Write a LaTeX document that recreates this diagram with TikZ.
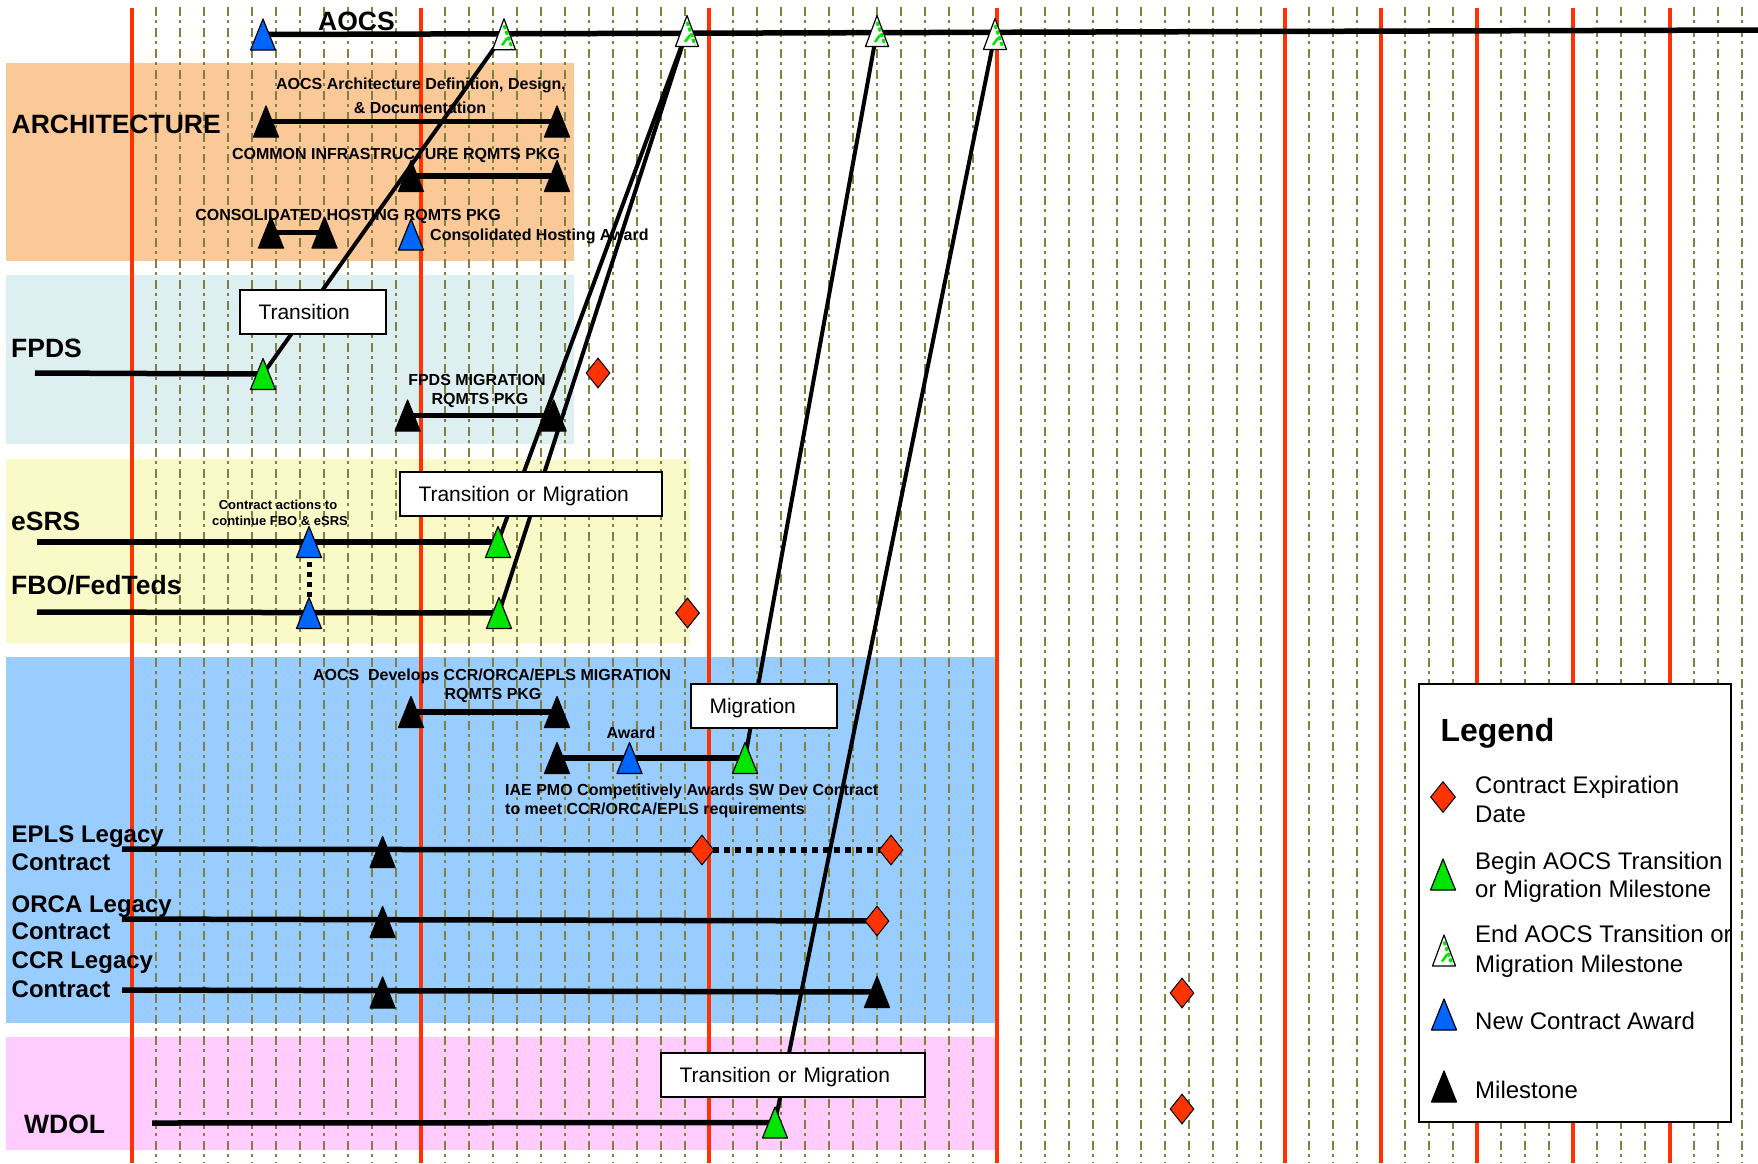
\documentclass[tikz,border=0pt]{standalone}
\usepackage{fontspec}
\setmainfont{Liberation Sans}
\usetikzlibrary{shapes.geometric}
\pgfdeclarelayer{bands}
\pgfdeclarelayer{grid}
\pgfdeclarelayer{links}
\pgfsetlayers{bands,grid,links,main}
\definecolor{gridred}{RGB}{255,51,0}
\definecolor{gridol}{RGB}{128,128,64}
\definecolor{peach}{RGB}{251,201,152}
\definecolor{paleblue}{RGB}{222,239,242}
\definecolor{paleyellow}{RGB}{250,249,200}
\definecolor{bandblue}{RGB}{153,204,255}
\definecolor{bandpink}{RGB}{255,204,255}
\definecolor{mkgreen}{RGB}{0,230,0}
\definecolor{mkblue}{RGB}{0,102,255}
\definecolor{mkred}{RGB}{255,51,0}
\newcommand\fntBig{\fontsize{26.5}{30}\selectfont\bfseries}
\newcommand\fntLeg{\fontsize{24}{28}\selectfont\bfseries}
\newcommand\fntSm{\fontsize{16}{19}\selectfont\bfseries}
\newcommand\fntXs{\fontsize{13}{16}\selectfont\bfseries}
\newcommand\fntCall{\fontsize{21}{25}\selectfont}
\newcommand\fntKey{\fontsize{24}{28}\selectfont}
\newcommand\fntTitle{\fontsize{32}{36}\selectfont\bfseries}
\tikzset{
  trimark/.style={inner sep=0pt, outer sep=0pt, minimum width=29pt, minimum height=35pt,
    path picture={\filldraw[fill=#1, draw=black, line width=1.2pt, line join=round]
      ([xshift=2pt,yshift=2pt]path picture bounding box.south west) --
      ([xshift=-2pt,yshift=2pt]path picture bounding box.south east) --
      ([yshift=-2pt]path picture bounding box.north) -- cycle;}},
  milestone/.style={trimark=black},
  award/.style={trimark=mkblue},
  startmark/.style={trimark=mkgreen},
  endmark/.style={inner sep=0pt, outer sep=0pt, minimum width=27pt, minimum height=35pt,
    path picture={
      \begin{scope}
      \clip ([xshift=2pt,yshift=2pt]path picture bounding box.south west) --
        ([xshift=-2pt,yshift=2pt]path picture bounding box.south east) --
        ([yshift=-2pt]path picture bounding box.north) -- cycle;
      \fill[white] (path picture bounding box.south west) rectangle (path picture bounding box.north east);
      \draw[mkgreen, line width=3pt, dash pattern=on 4pt off 2pt] ([xshift=0pt,yshift=9pt]path picture bounding box.center) --
        ([xshift=8pt,yshift=-14pt]path picture bounding box.center);
      \draw[mkgreen, line width=2.5pt] ([xshift=3pt,yshift=-4pt]path picture bounding box.center) --
        ([xshift=-2pt,yshift=-11pt]path picture bounding box.center);
      \end{scope}
      \draw[black, line width=1.2pt, line join=round]
        ([xshift=2pt,yshift=2pt]path picture bounding box.south west) --
        ([xshift=-2pt,yshift=2pt]path picture bounding box.south east) --
        ([yshift=-2pt]path picture bounding box.north) -- cycle;}},
  expiry/.style={diamond, draw=black, fill=mkred, line width=1pt, inner sep=0pt,
    minimum width=24pt, minimum height=30pt},
  hline/.style={line width=5.5pt},
  diag/.style={line width=4pt},
  callout/.style={draw=black, fill=white, line width=2pt, font=\fntCall, align=left,
    inner xsep=18.5pt, inner ysep=0pt, minimum height=44pt, text height=15pt,
    text depth=0pt, anchor=north west},
  redline/.style={gridred, line width=4.5pt},
  dashline/.style={gridol, line width=2pt, dash pattern=on 9pt off 4pt on 2.5pt off 5.5pt},
  big/.style={font=\fntBig, inner sep=0pt, anchor=base west},
  leg/.style={font=\fntLeg, inner sep=0pt, anchor=base west},
  sm/.style={font=\fntSm, inner sep=0pt, anchor=base},
  smw/.style={font=\fntSm, inner sep=0pt, anchor=base west},
  xs/.style={font=\fntXs, inner sep=0pt, anchor=base},
  keytext/.style={font=\fntKey, inner sep=0pt, anchor=base west},
}
\begin{document}
\begin{tikzpicture}[x=1pt,y=-1pt]
\useasboundingbox (0,0) rectangle (1758,1163);

% ---------- bands ----------
\begin{pgfonlayer}{bands}
  \fill[peach] (6,63) rectangle (574,261);
  \fill[paleblue] (6,275) rectangle (574,444);
  \fill[paleyellow] (6,459) rectangle (690,643);
  \fill[bandblue] (6,657) rectangle (995,1023);
  \fill[bandpink] (6,1037) rectangle (995,1150);
\end{pgfonlayer}

% ---------- time grid ----------
\begin{pgfonlayer}{grid}
  \foreach \s in {132,421,709,997}{
    \foreach \k in {1,...,11}{
      \draw[dashline] (\s+24*\k,7) -- (\s+24*\k,1163);
    }
  }
  \foreach \s in {1285,1381,1477,1573,1670}{
    \foreach \k in {1,2,3}{
      \draw[dashline] (\s+24*\k,7) -- (\s+24*\k,1163);
    }
  }
  \foreach \x in {132,421,709,997,1285,1381,1477,1573,1670}{
    \draw[redline] (\x,8) -- (\x,1163);
  }
\end{pgfonlayer}

% ---------- AOCS ----------
\node[award] (aocsAward) at (263,34.5) {};
\node[endmark] (aocsE1) at (504,34.3) {};
\node[endmark] (aocsE2) at (687,31) {};
\node[endmark] (aocsE3) at (877,31) {};
\node[endmark] (aocsE4) at (995,34) {};
\coordinate (aocsEnd) at (1758,30);
\node[big] (lblAocs) at (318,30) {AOCS};

% ---------- Architecture ----------
\node[big] (lblArch) at (11.5,133) {ARCHITECTURE};
\node[sm] (txtArchA1) at (421,89.5) {AOCS Architecture Definition, Design,};
\node[sm] (txtArchA2) at (420,113.5) {\& Documentation};
\node[milestone] (archA1) at (266,121.5) {};
\node[milestone] (archA2) at (557,121.5) {};
\node[sm] (txtArchB) at (396,159) {COMMON INFRASTRUCTURE RQMTS PKG};
\node[milestone] (archB1) at (411,176) {};
\node[milestone] (archB2) at (557,176) {};
\node[sm] (txtArchC) at (348,220) {CONSOLIDATED HOSTING RQMTS PKG};
\node[milestone] (archC1) at (271,232.5) {};
\node[milestone] (archC2) at (324.5,232.5) {};
\node[award] (archAward) at (411,234.5) {};
\node[smw] (txtArchAward) at (430,240) {Consolidated Hosting Award};

% ---------- FPDS ----------
\node[big] (lblFpds) at (11,357) {FPDS};
\coordinate (fpdsStart) at (35,373);
\node[startmark] (fpdsBegin) at (263,374) {};
\node[sm] (txtFpds1) at (477,385) {FPDS MIGRATION};
\node[sm] (txtFpds2) at (480,404) {RQMTS PKG};
\node[milestone] (fpdsM1) at (407.6,415.5) {};
\node[milestone] (fpdsM2) at (553.6,415.5) {};
\node[expiry] (fpdsExp) at (598,373) {};
\node[callout, text width=109pt] (boxTrans1) at (239,289) {Transition};

% ---------- eSRS / FBO ----------
\node[big] (lblEsrs) at (11,530) {eSRS};
\node[big] (lblFbo) at (11,594) {FBO/FedTeds};
\coordinate (esrsStart) at (37,542);
\coordinate (fboStart) at (37,612);
\node[xs] (txtCa1) at (278,509) {Contract actions to};
\node[xs] (txtCa2) at (280,525) {continue FBO \& eSRS};
\node[award] (esrsAward) at (309,542) {};
\node[startmark] (esrsBegin) at (498,542) {};
\node[award] (fboAward) at (309,613) {};
\node[startmark] (fboBegin) at (499,613) {};
\node[expiry] (fboExp) at (687.5,613) {};
\node[callout, text width=225pt] (boxTrans2) at (399,471) {Transition or Migration};

% ---------- CCR / ORCA / EPLS ----------
\node[sm] (txtDev1) at (492,680) {AOCS~ Develops CCR/ORCA/EPLS MIGRATION};
\node[sm] (txtDev2) at (493,699) {RQMTS PKG};
\node[milestone] (devM1) at (411,712) {};
\node[milestone] (devM2) at (557,712) {};
\node[sm] (txtAward) at (631,738) {Award};
\node[milestone] (iaeM) at (557,758) {};
\node[award] (iaeAward) at (629.5,758) {};
\node[startmark] (iaeBegin) at (745,758) {};
\node[smw] (txtIae1) at (505,795) {IAE PMO Competitively Awards SW Dev Contract};
\node[smw] (txtIae2) at (505,814) {to meet CCR/ORCA/EPLS requirements};
\node[callout, text width=108.5pt] (boxMigr) at (690,683) {Migration};

\node[leg] (lblEpls1) at (11.5,842) {EPLS Legacy};
\node[leg] (lblEpls2) at (11.5,870) {Contract};
\coordinate (eplsStart) at (122,849);
\node[milestone] (eplsM) at (382.6,852) {};
\node[expiry] (eplsExp1) at (702,850) {};
\node[expiry] (eplsExp2) at (891,850) {};

\node[leg] (lblOrca1) at (11.5,912) {ORCA Legacy};
\node[leg] (lblOrca2) at (11.5,939) {Contract};
\coordinate (orcaStart) at (122,919);
\node[milestone] (orcaM) at (382.6,922) {};
\node[expiry] (orcaExp) at (877,921) {};

\node[leg] (lblCcr1) at (11.5,968) {CCR Legacy};
\node[leg] (lblCcr2) at (11.5,997) {Contract};
\coordinate (ccrStart) at (122,990);
\node[milestone] (ccrM) at (382.6,992.5) {};
\node[milestone] (ccrEnd) at (877,992) {};

% ---------- WDOL ----------
\node[big] (lblWdol) at (24,1133) {WDOL};
\coordinate (wdolStart) at (152,1123);
\node[startmark] (wdolBegin) at (775,1122.5) {};
\node[callout, text width=226.5pt] (boxTrans3) at (660,1052) {Transition or Migration};

% ---------- extra expirations ----------
\node[expiry] (extraExp1) at (1182,993) {};
\node[expiry] (extraExp2) at (1182,1109) {};

% ---------- connectors ----------
\begin{pgfonlayer}{links}
  \draw[hline] (aocsAward.center) -- (aocsEnd);
  \draw[hline] (archA1.center) -- (archA2.center);
  \draw[hline] (archB1.center) -- (archB2.center);
  \draw[hline] (archC1.center) -- (archC2.center);
  \draw[hline] (fpdsStart) -- (fpdsBegin.center);
  \draw[hline] (fpdsM1.center) -- (fpdsM2.center);
  \draw[hline] (esrsStart) -- (esrsBegin.center);
  \draw[hline] (fboStart) -- (fboBegin.center);
  \draw[line width=5pt, dash pattern=on 5pt off 5pt] (esrsAward.center) -- (fboAward.center);
  \draw[hline] (devM1.center) -- (devM2.center);
  \draw[hline] (iaeM.center) -- (iaeBegin.center);
  \draw[hline] (eplsStart) -- (eplsExp1.center);
  \draw[line width=6pt, dash pattern=on 6pt off 5pt] (eplsExp1.center) -- (eplsExp2.center);
  \draw[hline] (orcaStart) -- (orcaExp.center);
  \draw[hline] (ccrStart) -- (ccrEnd.center);
  \draw[hline] (wdolStart) -- (wdolBegin.center);
  \draw[diag] (fpdsBegin.center) -- (aocsE1.center);
  \draw[diag] (esrsBegin.center) -- (aocsE2.center);
  \draw[diag] (fboBegin.center) -- (aocsE2.center);
  \draw[diag] (iaeBegin.center) -- (aocsE3.center);
  \draw[diag] (wdolBegin.center) -- (aocsE4.center);
\end{pgfonlayer}

% ---------- legend ----------
\node[draw=black, fill=white, line width=2.2pt, minimum width=312pt, minimum height=438pt]
  (legendBox) at (1574.8,903) {};
\node[font=\fntTitle, anchor=base west] (legendTitle) at (1437,741) {Legend};
\node[expiry, minimum width=25pt, minimum height=31pt] (keyExp) at (1443,797) {};
\node[keytext] (keyExpT1) at (1475,793) {Contract Expiration};
\node[keytext] (keyExpT2) at (1475,822) {Date};
\node[startmark] (keyBegin) at (1443,874.5) {};
\node[keytext] (keyBeginT1) at (1475,869) {Begin AOCS Transition};
\node[keytext] (keyBeginT2) at (1475,897) {or Migration Milestone};
\node[endmark] (keyEnd) at (1444,950.5) {};
\node[keytext] (keyEndT1) at (1475,942) {End AOCS Transition or};
\node[keytext] (keyEndT2) at (1475,972) {Migration Milestone};
\node[award] (keyAward) at (1444,1014.5) {};
\node[keytext] (keyAwardT) at (1475,1029) {New Contract Award};
\node[milestone] (keyMile) at (1444,1086.5) {};
\node[keytext] (keyMileT) at (1475,1098) {Milestone};
\end{tikzpicture}
\end{document}
